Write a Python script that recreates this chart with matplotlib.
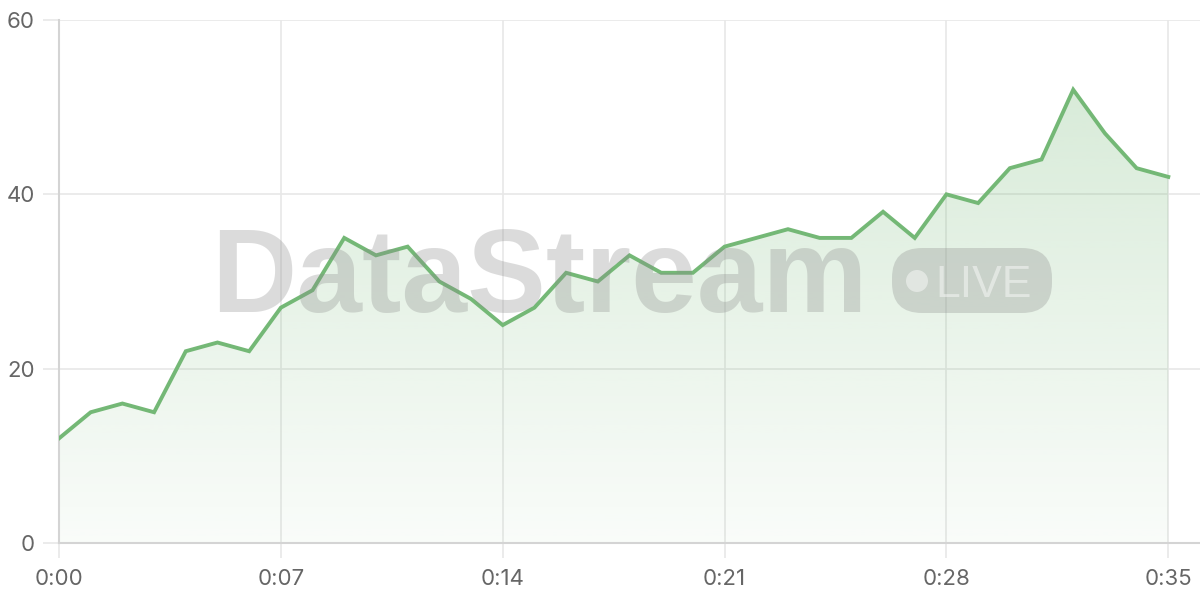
import matplotlib
matplotlib.use("Agg")
import matplotlib.pyplot as plt
import numpy as np
from matplotlib.patches import FancyBboxPatch, Ellipse, Polygon

minutes = list(range(36))
values = [12, 15, 16, 15, 22, 23, 22, 27, 29, 35, 33, 34, 30, 28, 25, 27, 31, 30,
          33, 31, 31, 34, 35, 36, 35, 35, 38, 35, 40, 39, 43, 44, 52, 47, 43, 42]
xtick_vals = [0, 7, 14, 21, 28, 35]
xtick_labels = ["0:00", "0:07", "0:14", "0:21", "0:28", "0:35"]
ytick_vals = [0, 20, 40, 60]

plt.rcParams['font.family'] = ['Inter', 'DejaVu Sans']

fig = plt.figure(figsize=(12, 6), dpi=100)
ax = fig.add_axes([59/1200, 57/600, (1200-59)/1200, 523/600])
ax.set_xlim(0, 36)
ax.set_ylim(0, 60)

line_color = '#74b876'
grid_color = '#e8e8e8'

# gradient fill
x = np.array(minutes, dtype=float)
y = np.array(values, dtype=float)
ymax = y.max()
grad = np.linspace(0.04, 0.28, 256).reshape(-1, 1)
rgba = np.zeros((256, 1, 4))
rgba[..., 0] = 0x74/255
rgba[..., 1] = 0xb8/255
rgba[..., 2] = 0x76/255
rgba[..., 3] = grad
im = ax.imshow(rgba, extent=[x.min(), x.max(), 0, ymax], origin='lower',
               aspect='auto', zorder=1, interpolation='bilinear')
verts = np.vstack([[x[0], 0], np.column_stack([x, y]), [x[-1], 0]])
poly = Polygon(verts, closed=True, facecolor='none', edgecolor='none')
ax.add_patch(poly)
im.set_clip_path(poly)

ax.plot(x, y, color=line_color, lw=2.8, zorder=3, solid_joinstyle='miter')

ax.set_xticks(xtick_vals)
ax.set_xticklabels(xtick_labels)
ax.set_yticks(ytick_vals)
ax.grid(True, color=grid_color, lw=1.2, zorder=0)
ax.set_axisbelow(True)
for s in ['top', 'right']:
    ax.spines[s].set_visible(False)
for s in ['left', 'bottom']:
    ax.spines[s].set_color('#d4d4d4')
    ax.spines[s].set_linewidth(1.5)
ax.tick_params(axis='both', colors=grid_color, labelcolor='#666666',
               labelsize=16, width=1.2)
ax.tick_params(axis='y', length=11.5, pad=6)
ax.tick_params(axis='x', length=11, pad=8)

# watermark
fig.text(211/1200, 1 - 312/600, "DataStream", fontsize=85, fontweight='bold',
         color='#8a8a8a', alpha=0.3, ha='left', va='baseline', zorder=10,
         family=['Liberation Sans', 'DejaVu Sans'])
pill = FancyBboxPatch((892/1200, 1 - 313/600), (1052-892)/1200, (313-248)/600,
                      boxstyle="round,pad=0,rounding_size=0.025",
                      transform=fig.transFigure, facecolor='#8a8a8a', alpha=0.3,
                      edgecolor='none', zorder=10,
                      mutation_aspect=2)
fig.add_artist(pill)
fig.add_artist(Ellipse((917/1200, 1 - 281/600), 22/1200, 22/600,
                       transform=fig.transFigure,
                       facecolor='white', alpha=0.45, edgecolor='none', zorder=11))
fig.text(935/1200, 1 - 297/600, "LIVE", fontsize=32, color='white', alpha=0.45,
         ha='left', va='baseline', zorder=11,
         family=['Liberation Sans', 'DejaVu Sans'])

fig.savefig("out.png", dpi=100)
